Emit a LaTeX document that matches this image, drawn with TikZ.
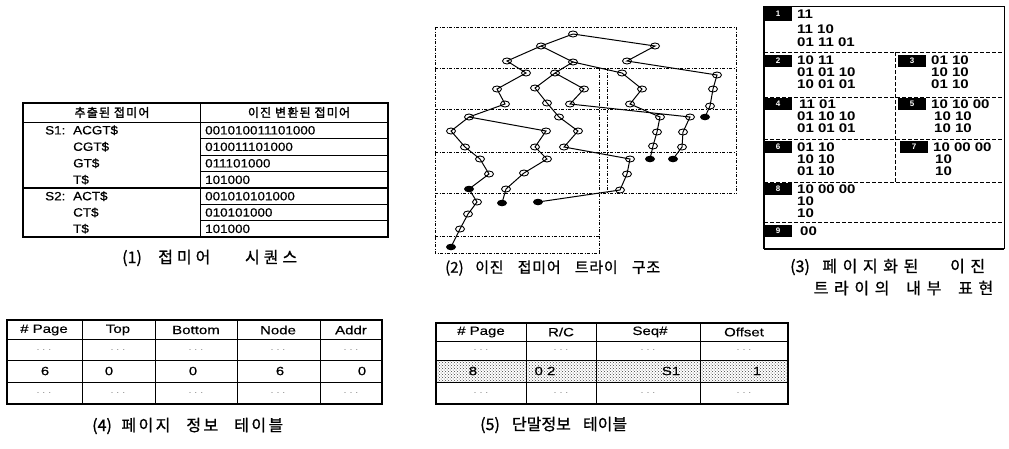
\documentclass[tikz,border=0pt]{standalone}
\usepackage{fontspec}
\setmainfont{Liberation Sans}
\newfontfamily\tbf[FakeStretch=1.12,FakeBold=0.6]{Liberation Sans}
\newfontfamily\tbh[FakeStretch=1.25,FakeBold=0.4]{Liberation Sans}
\newfontfamily\tbp[FakeStretch=1.2]{Liberation Sans}
\newfontfamily\kr[FakeBold=1]{Noto Sans CJK KR}
\newfontfamily\krh[FakeBold=2,LetterSpace=10]{Noto Sans CJK KR}
\usetikzlibrary{shapes.geometric,patterns}
\newcommand{\capx}[4]{\makebox[#1pt][s]{#3 {\addfontfeatures{LetterSpace=#2}#4}}}
\begin{document}
\begin{tikzpicture}[x=1pt,y=-1pt,
 tn/.style={ellipse,draw,line width=0.9pt,minimum width=9pt,minimum height=6pt,inner sep=0pt},
 tf/.style={ellipse,fill=black,minimum width=10pt,minimum height=6.5pt,inner sep=0pt},
 tedge/.style={line width=1pt},
 ddline/.style={line width=0.7pt,dash pattern=on 3pt off 1.5pt on 1pt off 1.5pt},
 pdline/.style={line width=0.9pt,dash pattern=on 4pt off 2pt},
 tline/.style={line width=0.8pt},
 bline/.style={line width=1.5pt},
 txtb/.style={inner sep=0pt,font=\tbf\fontsize{12}{12}\selectfont},
 hdtxt/.style={inner sep=0pt,font=\tbh\fontsize{12}{12}\selectfont},
 khead/.style={inner sep=0pt,font=\krh\fontsize{12}{12}\selectfont},
 dotstxt/.style={inner sep=0pt,text=black!55,font=\fontsize{9}{9}\selectfont},
 captxt/.style={inner sep=0pt,anchor=west,font=\kr\fontsize{16}{16}\selectfont},
 plabel/.style={fill=black,text=white,minimum width=28pt,minimum height=12pt,inner sep=0pt,font=\bfseries\fontsize{8}{8}\selectfont},
 ptxt/.style={inner sep=0pt,anchor=west,font=\tbp\bfseries\fontsize{12.5}{12.5}\selectfont}
]
\useasboundingbox (0,0) rectangle (1009,448);

% ---------------- (1) table ----------------
\draw[bline] (23,103) rectangle (388,237);
\draw[tline] (200,103) -- (200,237);
\draw[tline] (23,122) -- (388,122);
\draw[bline] (23,188) -- (388,188);
\foreach \yy in {138.5,155,171.5,204.3,220.6} \draw[tline] (200,\yy) -- (388,\yy);
\node[khead] (h1a) at (112,112.5) {추출된 접미어};
\node[khead] (h1b) at (299,112.5) {이진 변환된 접미어};
\node[txtb,anchor=west] (s1) at (45,130.3) {S1:};
\node[txtb,anchor=west] (s1a) at (73,130.3) {ACGT\$};
\node[txtb,anchor=west] (s1b) at (73,146.8) {CGT\$};
\node[txtb,anchor=west] (s1c) at (73,163.3) {GT\$};
\node[txtb,anchor=west] (s1d) at (73,179.8) {T\$};
\node[txtb,anchor=west] (s2) at (45,196.2) {S2:};
\node[txtb,anchor=west] (s2a) at (73,196.2) {ACT\$};
\node[txtb,anchor=west] (s2b) at (73,212.5) {CT\$};
\node[txtb,anchor=west] (s2c) at (73,228.8) {T\$};
\node[txtb,anchor=west] (b1) at (205,130.3) {001010011101000};
\node[txtb,anchor=west] (b2) at (205,146.8) {010011101000};
\node[txtb,anchor=west] (b3) at (205,163.3) {011101000};
\node[txtb,anchor=west] (b4) at (205,179.8) {101000};
\node[txtb,anchor=west] (b5) at (205,196.2) {001010101000};
\node[txtb,anchor=west] (b6) at (205,212.5) {010101000};
\node[txtb,anchor=west] (b7) at (205,228.8) {101000};
\node[captxt] (c1) at (122,258) {\capx{175}{25}{(1)}{접미어 시퀀스}};

% ---------------- (2) trie ----------------
\draw[ddline] (435,27) -- (736,27);
\draw[ddline] (435,27) -- (435,253) -- (599,253);
\draw[ddline] (736,27) -- (736,193);
\draw[ddline] (435,68) -- (736,68);
\draw[ddline] (435,109) -- (736,109);
\draw[ddline] (435,152) -- (736,152);
\draw[ddline] (435,193) -- (736,193);
\draw[ddline] (435,236) -- (599,236);
\draw[ddline] (599,68) -- (599,253);
\draw[ddline] (607,68) -- (607,193);

\node[tn] (r) at (573,34) {};
\node[tn] (a1) at (541,46) {};
\node[tn] (a2) at (507,61) {};
\node[tn] (a3) at (526,73) {};
\node[tn] (a4) at (497,89) {};
\node[tn] (a5) at (505,104) {};
\node[tn] (a6) at (469,117) {};
\node[tn] (a7) at (451,131) {};
\node[tn] (a8) at (465,147) {};
\node[tn] (a9) at (480,159) {};
\node[tn] (a10) at (489,174) {};
\node[tf] (a11) at (469,189) {};
\node[tn] (a12) at (477,202) {};
\node[tn] (a13) at (468,214) {};
\node[tn] (a14) at (460,229) {};
\node[tf] (a15) at (451,247) {};
\node[tn] (bb1) at (546,131) {};
\node[tn] (bb2) at (535,147) {};
\node[tn] (bb3) at (547,159) {};
\node[tn] (bb4) at (524,173) {};
\node[tn] (bb5) at (506,189) {};
\node[tf] (bb6) at (502,203) {};
\node[tn] (c0) at (573,62) {};
\node[tn] (cc1) at (555,73) {};
\node[tn] (cc2) at (535,88) {};
\node[tn] (cc3) at (547,103) {};
\node[tn] (cc4) at (584,89) {};
\node[tn] (cc5) at (570,104) {};
\node[tn] (cc6) at (559,117) {};
\node[tn] (cc7) at (578,131) {};
\node[tn] (cc8) at (564,147) {};
\node[tn] (e1) at (622,73) {};
\node[tn] (e2) at (642,89) {};
\node[tn] (e3) at (630,104) {};
\node[tn] (r1) at (655,46) {};
\node[tn] (r2) at (627,61) {};
\node[tn] (r3) at (717,75) {};
\node[tn] (r4) at (713,89) {};
\node[tn] (r5) at (710,106) {};
\node[tf] (r6) at (705,117) {};
\node[tn] (f1) at (660,117) {};
\node[tn] (f2) at (657,132) {};
\node[tn] (f3) at (653,146) {};
\node[tf] (f4) at (650,159) {};
\node[tn] (g1) at (690,117) {};
\node[tn] (g2) at (683,132) {};
\node[tn] (g3) at (682,147) {};
\node[tf] (g4) at (673,159) {};
\node[tn] (k1) at (630,159) {};
\node[tn] (k2) at (627,174) {};
\node[tn] (k3) at (620,190) {};
\node[tf] (k4) at (538,202) {};

\draw[tedge] (r.center) -- (a1.center) -- (a2.center) -- (a3.center) -- (a4.center) -- (a5.center) -- (a6.center) -- (a7.center) -- (a8.center) -- (a9.center) -- (a10.center) -- (a11.center) -- (a12.center) -- (a13.center) -- (a14.center) -- (a15.center);
\draw[tedge] (a6.center) -- (bb1.center) -- (bb2.center) -- (bb3.center) -- (bb4.center) -- (bb5.center) -- (bb6.center);
\draw[tedge] (a1.center) -- (c0.center) -- (cc1.center) -- (cc2.center) -- (cc3.center) -- (cc6.center) -- (cc7.center) -- (cc8.center) -- (k1.center) -- (k2.center) -- (k3.center) -- (k4.center);
\draw[tedge] (cc1.center) -- (cc4.center) -- (cc5.center) -- (g1.center) -- (g2.center) -- (g3.center) -- (g4.center);
\draw[tedge] (c0.center) -- (e1.center) -- (e2.center) -- (e3.center) -- (f1.center) -- (f2.center) -- (f3.center) -- (f4.center);
\draw[tedge] (r.center) -- (r1.center) -- (r2.center) -- (r3.center) -- (r4.center) -- (r5.center) -- (r6.center);
\node[captxt,font=\kr\fontsize{15}{15}\selectfont] (c2) at (445,268) {\capx{215}{5}{(2)}{이진 접미어 트라이 구조}};

% ---------------- (3) paged trie ----------------
\draw[line width=0.8pt] (764,6) -- (1004,6) -- (1004,249);
\draw[line width=2.4pt] (764,6) -- (764,249);
\draw[line width=1.8pt] (764,249) -- (1004,249);
\foreach \yy in {52,97,139,182,222} \draw[pdline] (764,\yy) -- (1004,\yy);
\draw[pdline] (895,52) -- (895,182);
\node[plabel,minimum height=14pt] (p1) at (778,14) {1};
\node[plabel] (p2) at (778,60.5) {2};
\node[plabel] (p3) at (912,60.5) {3};
\node[plabel] (p4) at (778,104) {4};
\node[plabel] (p5) at (912,104) {5};
\node[plabel] (p6) at (778,147) {6};
\node[plabel] (p7) at (914,147) {7};
\node[plabel] (p8) at (778,189) {8};
\node[plabel] (p9) at (778,231) {9};
\node[ptxt] (q11) at (797,14) {11};
\node[ptxt] (q12) at (797,29) {11 10};
\node[ptxt] (q13) at (797,42) {01 11 01};
\node[ptxt] (q21) at (797,60) {10 11};
\node[ptxt] (q22) at (797,72) {01 01 10};
\node[ptxt] (q23) at (797,84) {10 01 01};
\node[ptxt] (q31) at (931,60) {01 10};
\node[ptxt] (q32) at (931,72) {10 10};
\node[ptxt] (q33) at (931,84) {01 10};
\node[ptxt] (q41) at (799,104) {11 01};
\node[ptxt] (q42) at (797,116) {01 10 10};
\node[ptxt] (q43) at (797,128) {01 01 01};
\node[ptxt] (q51) at (931,104) {10 10 00};
\node[ptxt] (q52) at (934,116) {10 10};
\node[ptxt] (q53) at (934,128) {10 10};
\node[ptxt] (q61) at (797,147) {01 10};
\node[ptxt] (q62) at (797,159) {10 10};
\node[ptxt] (q63) at (797,171) {01 10};
\node[ptxt] (q71) at (933,147) {10 00 00};
\node[ptxt] (q72) at (935,159) {10};
\node[ptxt] (q73) at (935,171) {10};
\node[ptxt] (q81) at (797,189) {10 00 00};
\node[ptxt] (q82) at (797,201) {10};
\node[ptxt] (q83) at (797,213) {10};
\node[ptxt] (q91) at (800,231) {00};
\node[captxt] (c3a) at (790,267) {\capx{195}{35}{(3)}{페이지화된 이진}};
\node[captxt] (c3b) at (807,288) {\capx{186}{35}{}{트라이의 내부 표현}};

% ---------------- (4) page info table ----------------
\draw[bline] (7,320) rectangle (382,404);
\foreach \xx in {82,155,237,320} \draw[tline] (\xx,320) -- (\xx,404);
\foreach \yy in {339,360,382} \draw[tline] (7,\yy) -- (382,\yy);
\node[hdtxt] (u1) at (44,330) {\# Page};
\node[hdtxt] (u2) at (118,330) {Top};
\node[hdtxt] (u3) at (196,330) {Bottom};
\node[hdtxt] (u4) at (278,330) {Node};
\node[hdtxt] (u5) at (351,330) {Addr};
\foreach \xx/\nn in {44/a,118/b,196/c,278/d,351/e} {
 \node[dotstxt] (v\nn) at (\xx,350) {. . .};
 \node[dotstxt] (w\nn) at (\xx,393) {. . .};
}
\node[hdtxt] (x1) at (45,371) {6};
\node[hdtxt] (x2) at (109,371) {0};
\node[hdtxt] (x3) at (193,371) {0};
\node[hdtxt] (x4) at (280,371) {6};
\node[hdtxt] (x5) at (362,371) {0};
\node[captxt] (c4) at (92,426) {\capx{191}{15}{(4)}{페이지 정보 테이블}};

% ---------------- (5) leaf info table ----------------
\fill[pattern=crosshatch dots,pattern color=black!75] (436,360) rectangle (788,382);
\draw[bline] (436,323) rectangle (788,404);
\foreach \xx in {526,596,700} \draw[tline] (\xx,323) -- (\xx,404);
\foreach \yy in {341,360,382} \draw[tline] (436,\yy) -- (788,\yy);
\node[hdtxt] (y1) at (481,332) {\# Page};
\node[hdtxt] (y2) at (561,332) {R/C};
\node[hdtxt] (y3) at (650,332) {Seq\#};
\node[hdtxt] (y4) at (744,332) {Offset};
\foreach \xx/\nn in {481/a,561/b,648/c,744/d} {
 \node[dotstxt] (m\nn) at (\xx,350) {. . .};
 \node[dotstxt] (n\nn) at (\xx,393) {. . .};
}
\node[hdtxt] (z1) at (473,371) {8};
\node[hdtxt] (z2) at (545,371) {0 2};
\node[hdtxt] (z3) at (671,371) {S1};
\node[hdtxt] (z4) at (757,371) {1};
\node[captxt] (c5) at (480,425) {\capx{147}{0}{(5)}{단말정보 테이블}};
\end{tikzpicture}
\end{document}
